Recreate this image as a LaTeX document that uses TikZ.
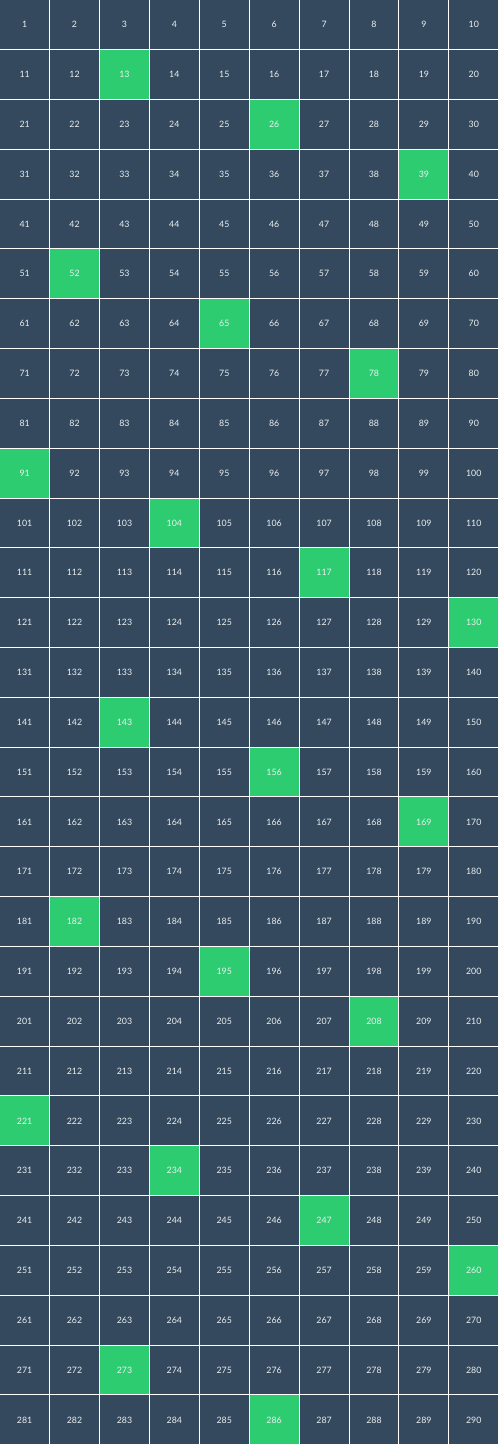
\documentclass[tikz,border=0pt]{standalone}
\usepackage{fontspec}
\setmainfont{Lato}
\usetikzlibrary{positioning}
\definecolor{cellbg}{HTML}{34495E}
\definecolor{cellhit}{HTML}{2ECC71}
\definecolor{celltext}{HTML}{ECF0F1}

\begin{document}
\begin{tikzpicture}[x=1pt,y=1pt,
        cell/.style={anchor=north west, fill=cellbg, text=celltext, inner sep=0pt,
            minimum width=48.9pt, minimum height=48.83pt, font=\fontsize{8.8}{10}\selectfont},
        hit/.style={fill=cellhit}]
        % Background
        \fill[white] (0,0) rectangle (498,-1444);
        \useasboundingbox (0,0) rectangle (498,-1444);

        % Number grid, multiples of 13 marked
        \foreach \r in {0,...,28}{
            \foreach \c in {0,...,9}{
                \pgfmathtruncatemacro\n{\r*10+\c+1}
                \pgfmathtruncatemacro\m{mod(\n,13)}
                \ifnum\m=0
                    \node[cell, hit] (n\n) at (\c*49.9, -\r*49.83) {\n};
                \else
                    \node[cell] (n\n) at (\c*49.9, -\r*49.83) {\n};
                \fi
            }
        }
    \end{tikzpicture}
\end{document}
